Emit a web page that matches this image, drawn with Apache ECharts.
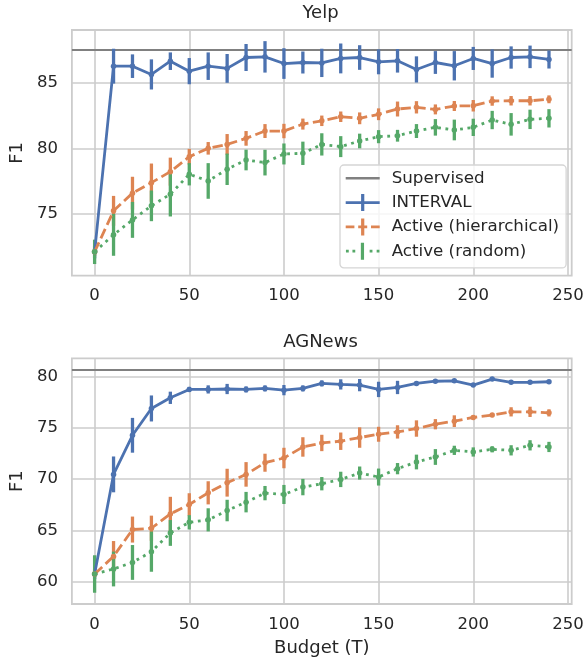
<!DOCTYPE html>
<html>
<head>
<meta charset="utf-8">
<script src="https://cdn.jsdelivr.net/npm/echarts@6/dist/echarts.min.js"></script>
<style>
html,body{margin:0;padding:0;background:#fff;}
#chart{width:587px;height:660px;}
</style>
</head>
<body>
<div id="chart"></div>
<script>
// ---------- data ----------
const budget = [0,10,20,30,40,50,60,70,80,90,100,110,120,130,140,150,160,170,180,190,200,210,220,230,240];
const xTicks = [0,50,100,150,200,250];
const yelpTicks = [75,80,85];
const agTicks = [60,65,70,75,80];
const datasets = ['Yelp','AGNews'];
const supervised = [87.5, 80.72];
const seriesNames = ['Supervised','INTERVAL','Active (hierarchical)','Active (random)'];

const intervalYelp    = [72.1,86.27,86.27,85.64,86.65,85.89,86.27,86.1,86.93,86.98,86.47,86.55,86.52,86.86,86.93,86.6,86.68,86.02,86.55,86.3,86.86,86.47,86.93,86.98,86.78];
const intervalYelpErr = [0.5,1.33,0.9,1.15,0.67,1.0,1.05,1.1,1.03,1.2,1.17,0.84,1.08,1.14,0.94,0.95,0.9,1.0,0.87,1.12,0.88,1.08,0.85,0.86,0.69];
const hierYelp        = [72.1,75.23,76.58,77.38,78.22,79.36,80.0,80.3,80.76,81.32,81.32,81.85,82.1,82.41,82.29,82.6,83.0,83.13,82.97,83.23,83.25,83.61,83.63,83.63,83.74];
const hierYelpErr     = [0.3,1.14,1.25,1.46,1.07,0.6,0.48,0.79,0.56,0.53,0.55,0.42,0.4,0.4,0.45,0.45,0.57,0.47,0.38,0.38,0.44,0.36,0.36,0.36,0.3];
const randYelp        = [72.1,73.4,74.54,75.61,76.5,78.02,77.51,78.4,79.11,78.91,79.57,79.62,80.3,80.13,80.56,80.89,80.96,81.32,81.6,81.4,81.6,82.16,81.83,82.21,82.29];
const randYelpErr     = [0.93,1.6,1.37,1.17,1.7,0.85,1.36,1.2,0.79,0.98,0.8,0.89,0.85,0.8,0.56,0.5,0.45,0.53,0.63,0.79,0.66,0.7,0.86,0.74,0.7];

const intervalAg      = [60.73,70.46,74.28,76.9,77.94,78.76,78.76,78.8,78.76,78.86,78.69,78.86,79.35,79.25,79.18,78.76,78.95,79.35,79.56,79.6,79.18,79.77,79.45,79.45,79.51];
const intervalAgErr   = [0.5,1.75,1.7,1.27,0.6,0.25,0.4,0.5,0.3,0.3,0.5,0.3,0.3,0.5,0.6,0.75,0.65,0.2,0.15,0.15,0.15,0.15,0.15,0.15,0.15];
const hierAg          = [60.73,62.45,65.07,65.2,66.6,67.52,68.66,69.65,70.46,71.6,72.06,73.14,73.53,73.7,74.06,74.38,74.61,74.94,75.36,75.66,76.02,76.25,76.57,76.57,76.47];
const hierAgErr       = [0.3,1.5,1.27,1.23,1.67,1.1,1.13,1.36,1.2,0.88,1.0,0.95,0.8,0.85,1.0,0.73,0.65,0.8,0.5,0.57,0.2,0.2,0.45,0.5,0.35];
const randAg          = [60.73,61.22,61.86,62.91,64.74,65.78,66.02,66.93,67.75,68.63,68.5,69.22,69.55,69.97,70.59,70.2,71.02,71.67,72.16,72.81,72.65,72.91,72.81,73.3,73.14];
const randAgErr       = [1.83,1.7,1.7,1.96,1.26,0.7,1.13,1.05,1.0,0.7,0.93,0.8,0.65,0.75,0.64,0.83,0.55,0.72,0.77,0.45,0.45,0.3,0.5,0.5,0.5];

// ---------- style ----------
const FONT = 'DejaVu Sans';
const TXT = '#262626';
const GRIDC = '#cccccc';
const colors = {sup:'#808080', blue:'#4C72B0', orange:'#DD8452', green:'#55A868'};
const LW = 2.8;

const panels = [
  {means:[intervalYelp,hierYelp,randYelp], errs:[intervalYelpErr,hierYelpErr,randYelpErr], ymin:70.28, ymax:89.03, ticks:yelpTicks, top:30},
  {means:[intervalAg,hierAg,randAg], errs:[intervalAgErr,hierAgErr,randAgErr], ymin:57.8, ymax:81.8, ticks:agTicks, top:358.3}
];
const lineColors = [colors.blue, colors.orange, colors.green];
const lineTypes = ['solid', [10.4,4.5], [2.8,4.6]];

const grids = [], xAxes = [], yAxes = [], series = [], titles = [];
panels.forEach((p, gi) => {
  grids.push({left:69.3, top:p.top, width:502.4, height:245.7, show:true, borderColor:GRIDC, borderWidth:1.8, backgroundColor:'transparent'});
  xAxes.push({
    type:'value', gridIndex:gi, min:-12, max:252,
    axisLine:{show:false},
    axisTick:{show:false, customValues:xTicks},
    axisLabel:{customValues:xTicks, color:TXT, fontFamily:FONT, fontSize:16.5, margin:12},
    splitLine:{show:true, lineStyle:{color:GRIDC, width:1.6}},
    name: gi === 1 ? 'Budget (T)' : '',
    nameLocation:'middle', nameGap:35,
    nameTextStyle:{color:TXT, fontFamily:FONT, fontSize:18}
  });
  yAxes.push({
    type:'value', gridIndex:gi, min:p.ymin, max:p.ymax,
    axisLine:{show:false},
    axisTick:{show:false, customValues:p.ticks},
    axisLabel:{customValues:p.ticks, color:TXT, fontFamily:FONT, fontSize:16.5, margin:14},
    splitLine:{show:true, lineStyle:{color:GRIDC, width:1.6}},
    name:'F1', nameLocation:'middle', nameGap:38,
    nameTextStyle:{color:TXT, fontFamily:FONT, fontSize:18}
  });
  titles.push({text:datasets[gi], left:320.5, top: gi===0 ? 4.5 : 333.5, textAlign:'center', padding:0,
    textStyle:{color:TXT, fontFamily:FONT, fontSize:18, fontWeight:'normal'}});

  series.push({
    name:seriesNames[0], type:'line', xAxisIndex:gi, yAxisIndex:gi, data:[],
    itemStyle:{color:colors.sup}, lineStyle:{color:colors.sup, width:2.2},
    markLine:{silent:true, z:1, symbol:'none', animation:false, label:{show:false},
      lineStyle:{color:colors.sup, width:2.2, type:'solid'},
      emphasis:{disabled:true},
      data:[{yAxis:supervised[gi]}]}
  });
  for (let s = 0; s < 3; s++) {
    const col = lineColors[s];
    const m = p.means[s], e = p.errs[s];
    series.push({
      name:seriesNames[s+1], type:'line', xAxisIndex:gi, yAxisIndex:gi,
      data: budget.map((b,i) => [b, m[i]]),
      symbol:'circle', symbolSize:5.5, showSymbol:true,
      itemStyle:{color:col},
      lineStyle:{color:col, width:LW, type:lineTypes[s], cap:'butt'},
      animation:false, z:2
    });
    series.push({
      name:seriesNames[s+1], type:'custom', xAxisIndex:gi, yAxisIndex:gi,
      data: budget.map((b,i) => [b, m[i]-e[i], m[i]+e[i]]),
      encode:{x:0, y:[1,2]},
      itemStyle:{color:col},
      renderItem:(params, api) => {
        const a = api.coord([api.value(0), api.value(1)]);
        const c = api.coord([api.value(0), api.value(2)]);
        return {type:'line', shape:{x1:a[0], y1:a[1], x2:c[0], y2:c[1]},
                style:{stroke:col, lineWidth:3.3}};
      },
      animation:false, z:2
    });
  }
});

const icons = {
  'Supervised':'path://M0,7.2H34V9.8H0Z',
  'INTERVAL':'path://M0,7.1H15.4V0H18.6V7.1H34V9.9H18.6V17H15.4V9.9H0Z',
  'Active (hierarchical)':'path://M0,7.1H8.7V9.9H0Z M12.5,7.1H15.4V0H18.6V7.1H21.5V9.9H18.6V17H15.4V9.9H12.5Z M25.3,7.1H34V9.9H25.3Z',
  'Active (random)':'path://M0.5,7.1H3.3V9.9H0.5Z M7,7.1H9.8V9.9H7Z M15.4,0H18.6V17H15.4Z M24.2,7.1H27V9.9H24.2Z M31.2,7.1H34V9.9H31.2Z'
};

const chart = echarts.init(document.getElementById('chart'), null, {renderer:'canvas'});
chart.setOption({
  animation:false,
  backgroundColor:'#ffffff',
  title:titles,
  grid:grids,
  xAxis:xAxes,
  yAxis:yAxes,
  legend:{
    orient:'vertical', left:340, top:165,
    padding:[4.8,7,8.2,5.7], itemGap:7.3, itemWidth:34, itemHeight:17,
    backgroundColor:'rgba(255,255,255,0.8)', borderColor:'#d5d5d5', borderWidth:1.3, borderRadius:4,
    itemStyle:{borderWidth:0},
    textStyle:{color:TXT, fontFamily:FONT, fontSize:16.7, lineHeight:17, padding:[0,0,0,7]},
    selectedMode:false,
    data: seriesNames.map(n => ({name:n, icon:icons[n]}))
  },
  series:series
});
</script>
</body>
</html>
